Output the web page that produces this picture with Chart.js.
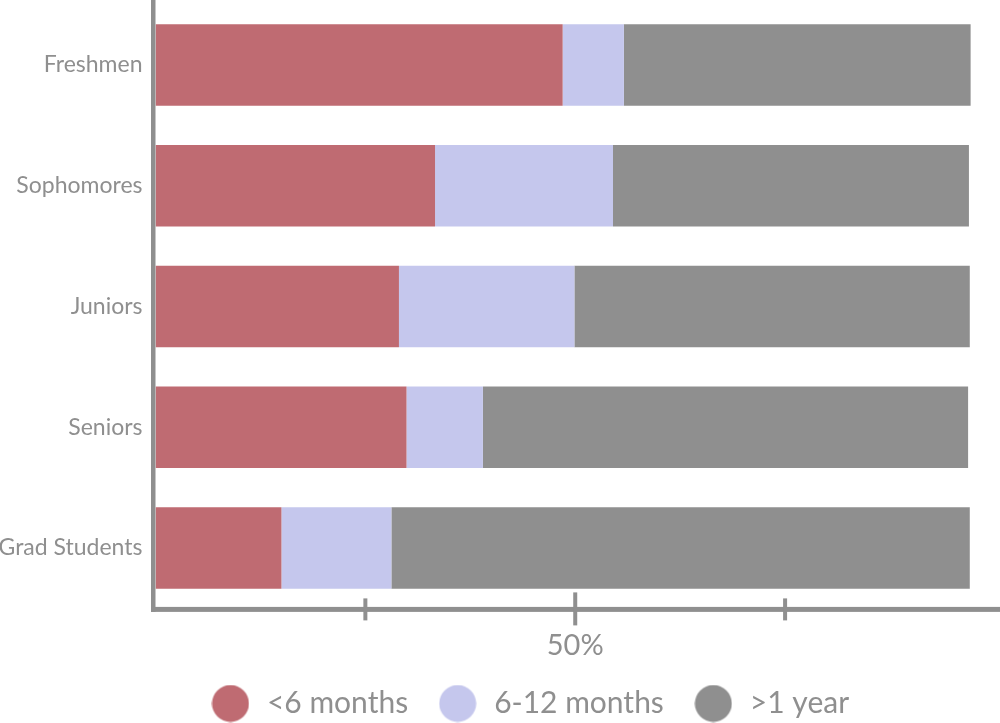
<!DOCTYPE html>
<html>
<head>
<meta charset="utf-8">
<script src="https://cdn.jsdelivr.net/npm/chart.js@4.4.0/dist/chart.umd.min.js"></script>
<style>
    html, body { margin: 0; padding: 0; background: #fff; }
    #wrap { width: 1000px; height: 723px; position: relative; }
</style>
</head>
<body>
<div id="wrap"><canvas id="chart"></canvas></div>
<script>
// Data (percent of students)
const categories = ['Freshmen', 'Sophomores', 'Juniors', 'Seniors', 'Grad Students'];
const seriesNames = ['<6 months', '6-12 months', '>1 year'];
const underSixMonths = [48.5, 33.3, 29.0, 29.9, 15.0];
const sixToTwelveMonths = [7.3, 21.2, 20.9, 9.1, 13.1];
const overOneYear = [41.3, 42.4, 47.1, 57.8, 68.9];
const xTicks = [25, 50, 75];
const labeledTick = 50;

const FONT = 'Lato, "Open Sans", sans-serif';
const TEXT = '#8f8f8f';
const AXIS = '#8f8f8f';
const colors = ['#bf6b72', '#c5c7ed', '#8f8f8f'];

// Round legend markers
function makeDot(color) {
    const c = document.createElement('canvas');
    c.width = 38;
    c.height = 38;
    const g = c.getContext('2d');
    g.fillStyle = color;
    g.beginPath();
    g.arc(19, 19, 18.5, 0, Math.PI * 2);
    g.fill();
    return c;
}
const legendDots = colors.map(makeDot);

// Axis lines and cross tick marks
const axisLines = {
    id: 'axisLines',
    afterDraw(chart) {
        const { ctx, chartArea } = chart;
        const x = chart.scales.x;
        ctx.save();
        ctx.fillStyle = AXIS;
        ctx.fillRect(chartArea.left - 4.5, 0, 4.5, chartArea.bottom + 3.5);
        ctx.fillRect(chartArea.left - 4.5, chartArea.bottom - 1.5, chart.width, 5);
        xTicks.forEach(v => {
            const px = x.getPixelForValue(v);
            const major = v === labeledTick;
            const top = chartArea.bottom + (major ? -16 : -10);
            const bot = chartArea.bottom + (major ? 17 : 12);
            ctx.fillRect(px - 2, top, 4, bot - top);
        });
        ctx.restore();
    }
};

// Move legend box to where the reference has it
const LEGEND_DX = 29;
const LEGEND_DY = 5.5;
const nudgeLegend = {
    id: 'nudgeLegend',
    afterLayout(chart) {
        const l = chart.legend;
        l.left += LEGEND_DX;
        l.right += LEGEND_DX;
        l.top += LEGEND_DY;
        l.bottom += LEGEND_DY;
    }
};

const datasets = [underSixMonths, sixToTwelveMonths, overOneYear].map((data, i) => ({
    label: seriesNames[i],
    data,
    backgroundColor: colors[i],
    borderWidth: 0,
    barPercentage: 0.674,
    categoryPercentage: 1
}));

new Chart(document.getElementById('chart'), {
    type: 'bar',
    data: { labels: categories, datasets },
    plugins: [axisLines, nudgeLegend],
    options: {
        indexAxis: 'y',
        responsive: true,
        maintainAspectRatio: false,
        animation: false,
        layout: { padding: { top: 4.6, right: 0, bottom: 0, left: 0 } },
        plugins: {
            tooltip: { enabled: false },
            legend: {
                position: 'bottom',
                labels: {
                    usePointStyle: true,
                    pointStyleWidth: 43,
                    boxHeight: 26,
                    padding: 28,
                    color: TEXT,
                    font: { family: FONT, size: 30 },
                    generateLabels: chart =>
                        Chart.defaults.plugins.legend.labels.generateLabels(chart)
                            .map((item, i) => ({ ...item, pointStyle: legendDots[i] }))
                }
            }
        },
        scales: {
            x: {
                stacked: true,
                min: 0,
                max: 100.6,
                grid: { display: false },
                border: { display: false },
                afterBuildTicks: s => { s.ticks = xTicks.map(v => ({ value: v })); },
                afterFit: s => { s.height = 46.6; },
                ticks: {
                    autoSkip: false,
                    maxRotation: 0,
                    padding: 12,
                    color: TEXT,
                    font: { family: FONT, size: 29 },
                    callback: v => v === labeledTick ? v + '%' : ''
                }
            },
            y: {
                stacked: true,
                grid: { display: false },
                border: { display: false },
                afterFit: s => {
                    s.width = 155.5;
                    s.paddingTop = 0;
                    s.paddingBottom = 0;
                },
                ticks: {
                    padding: 5,
                    color: TEXT,
                    font: { family: FONT, size: 23 }
                }
            }
        }
    }
});
</script>
</body>
</html>
